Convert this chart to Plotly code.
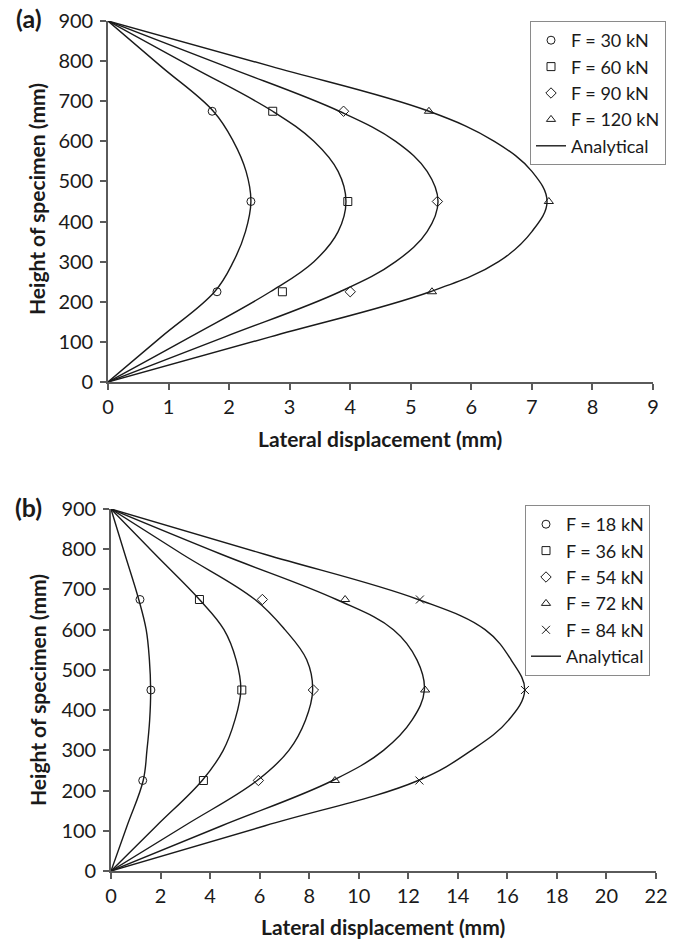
import plotly.graph_objects as go

# Heights along the specimen (mm) at which the analytical profiles are tabulated
heights = [0, 112.5, 225, 300, 375, 450, 525, 600, 675, 787.5, 900]
# Heights of the measurement points (mm)
test_heights = [225, 450, 675]

# ---- Panel (a) ----
loads_a = ["F = 30 kN", "F = 60 kN", "F = 90 kN", "F = 120 kN"]
symbols_a = ["circle-open", "square-open", "diamond-open", "triangle-up-open"]
analytical_a = [
    [0, 0.88, 1.76, 2.07, 2.27, 2.36, 2.28, 2.07, 1.74, 0.87, 0],
    [0, 1.36, 2.68, 3.40, 3.80, 3.93, 3.80, 3.40, 2.72, 1.36, 0],
    [0, 1.93, 3.83, 4.75, 5.27, 5.45, 5.27, 4.75, 3.82, 1.93, 0],
    [0, 2.68, 5.32, 6.45, 7.00, 7.25, 7.00, 6.38, 5.30, 2.68, 0],
]
measured_a = [
    [1.80, 2.36, 1.72],
    [2.88, 3.96, 2.72],
    [4.00, 5.44, 3.89],
    [5.35, 7.28, 5.30],
]

# ---- Panel (b) ----
loads_b = ["F = 18 kN", "F = 36 kN", "F = 54 kN", "F = 72 kN", "F = 84 kN"]
symbols_b = ["circle-open", "square-open", "diamond-open", "triangle-up-open", "x-thin-open"]
analytical_b = [
    [0, 0.65, 1.30, 1.45, 1.56, 1.60, 1.55, 1.42, 1.12, 0.56, 0],
    [0, 1.84, 3.68, 4.53, 5.00, 5.24, 5.05, 4.56, 3.57, 1.78, 0],
    [0, 2.97, 5.90, 7.18, 7.85, 8.14, 7.90, 7.02, 5.81, 2.88, 0],
    [0, 4.47, 8.95, 11.00, 12.15, 12.65, 12.35, 11.40, 9.10, 4.45, 0],
    [0, 6.22, 12.40, 14.55, 16.05, 16.70, 16.15, 15.10, 12.40, 6.20, 0],
]
measured_b = [
    [1.28, 1.61, 1.17],
    [3.73, 5.28, 3.57],
    [5.95, 8.17, 6.11],
    [9.04, 12.68, 9.45],
    [12.45, 16.71, 12.47],
]

x_ticks_a = list(range(0, 10, 1))
x_ticks_b = list(range(0, 23, 2))
y_ticks = list(range(0, 1000, 100))

FONT = "Lato"
INK = "#1a1a1a"
AXIS = "#5a5a5a"

fig = go.Figure()


def add_panel(loads, symbols, analytical, measured, xa, ya, legend):
    for name, sym, pts in zip(loads, symbols, measured):
        fig.add_trace(go.Scatter(
            x=pts, y=test_heights, mode="markers", name=name,
            xaxis=xa, yaxis=ya, legend=legend, cliponaxis=False,
            marker=dict(symbol=sym, size=8, color=INK,
                        line=dict(color=INK, width=1)),
        ))
    for i, prof in enumerate(analytical):
        fig.add_trace(go.Scatter(
            x=prof, y=heights, mode="lines", name="Analytical",
            xaxis=xa, yaxis=ya, legend=legend, showlegend=(i == 0),
            line=dict(color=INK, width=1.4, shape="spline", smoothing=1.1),
        ))


add_panel(loads_a, symbols_a, analytical_a, measured_a, "x", "y", "legend")
add_panel(loads_b, symbols_b, analytical_b, measured_b, "x2", "y2", "legend2")

W, H = 678, 941


def xdom(l, r):
    return [l / W, r / W]


def ydom(top, bottom):
    return [1 - bottom / H, 1 - top / H]


axis_common = dict(
    showline=True, linecolor=AXIS, linewidth=1.6,
    ticks="outside", tickcolor=AXIS, ticklen=6, tickwidth=1.6,
    showgrid=False, zeroline=False, automargin=False,
    tickfont=dict(family=FONT, size=20, color=INK),
)
x_axis_style = dict(axis_common, ticklabelstandoff=0)
y_axis_style = dict(axis_common, ticklabelstandoff=3)

legend_style = dict(
    xanchor="left", yanchor="top",
    bgcolor="white", bordercolor="#8a8a8a", borderwidth=1,
    font=dict(family=FONT, size=18, color=INK),
    itemwidth=30, tracegroupgap=0,
)

fig.update_layout(
    width=W, height=H,
    margin=dict(l=0, r=0, t=0, b=0),
    paper_bgcolor="white", plot_bgcolor="white",
    font=dict(family=FONT, color=INK),
    xaxis=dict(domain=xdom(108, 653), range=[0, 9], tickvals=x_ticks_a,
               anchor="y", **x_axis_style),
    yaxis=dict(domain=ydom(21, 382), range=[0, 900], tickvals=y_ticks,
               anchor="x", **y_axis_style),
    xaxis2=dict(domain=xdom(111, 656), range=[0, 22], tickvals=x_ticks_b,
                anchor="y2", **x_axis_style),
    yaxis2=dict(domain=ydom(509, 871), range=[0, 900], tickvals=y_ticks,
                anchor="x2", **y_axis_style),
    legend=dict(x=530 / W, y=1 - 21 / H, **legend_style),
    legend2=dict(x=525 / W, y=1 - 505 / H, **legend_style),
    showlegend=True,
)


def paper_text(text, xpix, ypix, size, angle=0):
    fig.add_annotation(
        text=text, x=xpix / W, y=1 - ypix / H, xref="paper", yref="paper",
        xanchor="center", yanchor="middle", showarrow=False, textangle=angle,
        font=dict(family=FONT, size=size, color=INK),
    )


# Axis titles
paper_text("<b>Lateral displacement (mm)</b>", 380, 438, 21)
paper_text("<b>Lateral displacement (mm)</b>", 383, 926, 21)
paper_text("<b>Height of specimen (mm)</b>", 37, 199, 21, angle=-90)
paper_text("<b>Height of specimen (mm)</b>", 37, 690, 21, angle=-90)

# Panel labels
paper_text("<b>(a)</b>", 29, 18, 25)
paper_text("<b>(b)</b>", 28, 507, 25)

fig.write_html("out.html")
